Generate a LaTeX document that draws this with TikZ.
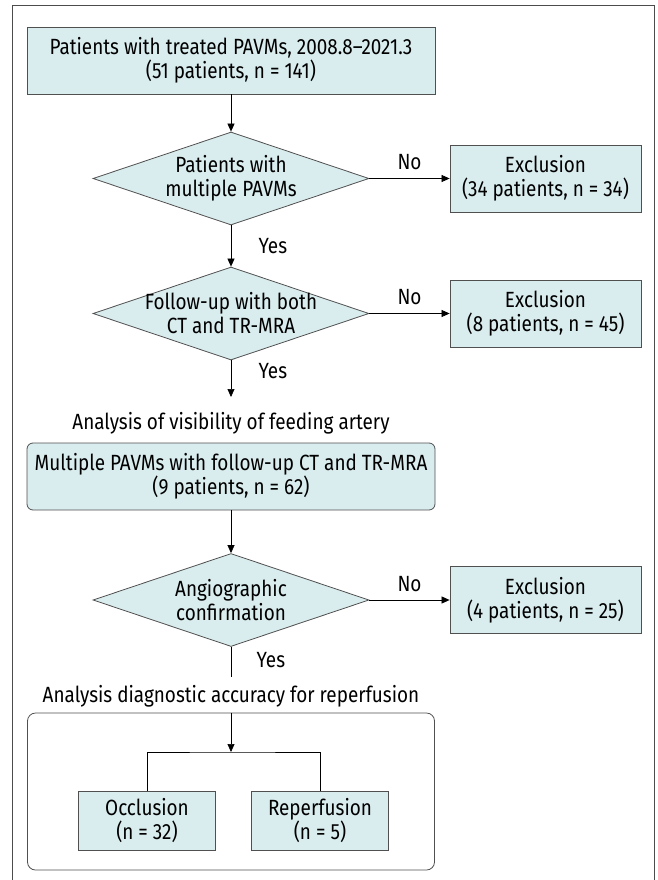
\documentclass[tikz,border=0pt]{standalone}
\usepackage{fontspec}
\setmainfont{Fira Sans}[FakeStretch=0.86]
\usepackage{xcolor}
\usetikzlibrary{shapes.geometric,arrows.meta,positioning}
\definecolor{boxfill}{RGB}{217,236,238}
\definecolor{boxline}{RGB}{80,80,80}
\tikzset{>={Triangle[length=8pt,width=7pt]}}

\begin{document}
\begin{tikzpicture}[x=1pt,y=-1pt,
                    font=\fontsize{22}{24}\selectfont,
                    box/.style={draw=boxline, fill=boxfill, line width=0.8pt, align=center, inner sep=0pt},
                    widebox/.style={box, minimum width=408pt, minimum height=67pt},
                    exclbox/.style={box, minimum width=191pt, minimum height=67pt},
                    groupbox/.style={box, minimum width=137pt, minimum height=59pt},
                    decision/.style={diamond, draw=boxline, fill=boxfill, line width=0.8pt,
                                     minimum width=276pt, minimum height=93pt, inner sep=0pt},
                    decisiontext/.style={align=center, inner sep=0pt},
                    flow/.style={line width=0.7pt, black},
                   ]

\useasboundingbox (0,0) rectangle (657,880);
\draw[gray!60!black, line width=1pt] (12,885) -- (12,6) -- (654,6) -- (654,885);

% main column
\node[widebox] (start) at (231,60.5) {Patients with treated PAVMs, 2008.8--2021.3\\(51 patients, n = 141)};
\node[decision, label={[decisiontext]center:{Patients with\\multiple PAVMs}}] (multi) at (231,178.5) {};
\node[decision, label={[decisiontext]center:{Follow-up with both\\CT and TR-MRA}}] (follow) at (231,313.5) {};
\node (visib) at (231,423) {Analysis of visibility of feeding artery};
\node[widebox, rounded corners=6pt] (multiple) at (231,476.5) {Multiple PAVMs with follow-up CT and TR-MRA\\(9 patients, n = 62)};
\node[decision, label={[decisiontext]center:{Angiographic\\confirmation}}] (angio) at (231,600) {};
\node (accur) at (231,696) {Analysis diagnostic accuracy for reperfusion};

% exclusions
\node[exclbox] (excl1) at (545.5,178.5) {Exclusion\\(34 patients, n = 34)};
\node[exclbox] (excl2) at (545.5,313.5) {Exclusion\\(8 patients, n = 45)};
\node[exclbox] (excl3) at (545.5,600) {Exclusion\\(4 patients, n = 25)};

% reperfusion analysis
\node[draw=boxline, line width=0.8pt, rounded corners=8pt, minimum width=407pt, minimum height=157pt] (group) at (231,791.5) {};
\node[groupbox] (occl) at (147,820.5) {Occlusion\\(n = 32)};
\node[groupbox] (reperf) at (320,820.5) {Reperfusion\\(n = 5)};

\coordinate (visibin) at (231,397);
\coordinate (accurin) at (231,677);
\coordinate (split) at (231,752);

\draw[flow,->] (start) -- (multi);
\draw[flow,->] (multi) -- node[above=5pt]{No} (excl1);
\draw[flow,->] (multi) -- node[right=24pt]{Yes} (follow);
\draw[flow,->] (follow) -- node[above=5pt]{No} (excl2);
\draw[flow,->] (follow) -- node[pos=0.3, right=24pt]{Yes} (visibin);
\draw[flow,->] (multiple) -- (angio);
\draw[flow,->] (angio) -- node[above=5pt]{No} (excl3);
\draw[flow] (angio) -- node[pos=0.45, right=22pt]{Yes} (accurin);
\draw[flow,->] (group.north) -- (split);
\draw[flow] (occl) |- (split) -| (reperf);

\end{tikzpicture}
\end{document}
